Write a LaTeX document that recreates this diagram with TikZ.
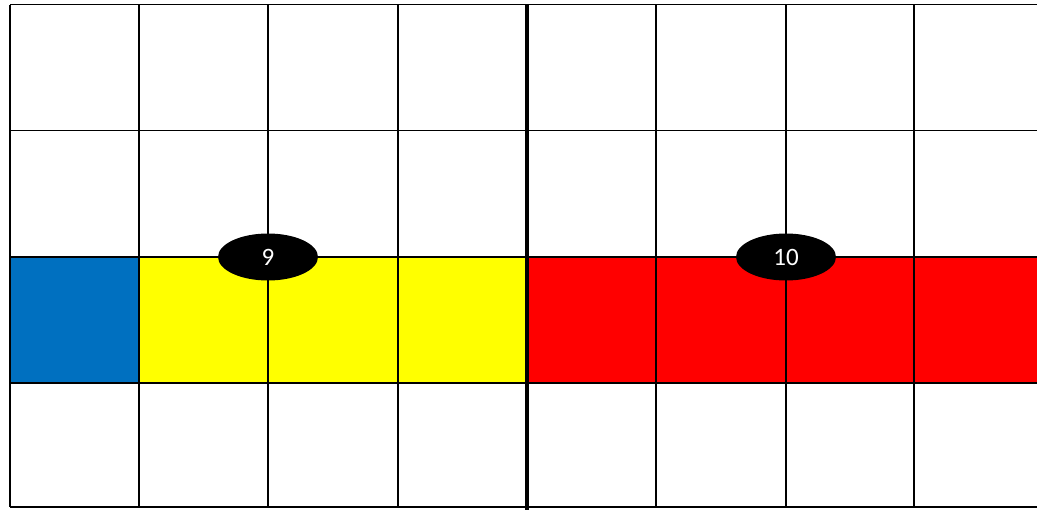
\documentclass[tikz,border=0pt]{standalone}
\usepackage{fontspec}
\setmainfont{Carlito}
\definecolor{cblue}{HTML}{0070C0}
\definecolor{cyellow}{HTML}{FFFF00}
\definecolor{cred}{HTML}{FF0000}
\usetikzlibrary{shapes.geometric}
\tikzset{
  gridline/.style={line width=1.8pt, black},
  midline/.style={line width=4.5pt, black},
  badge/.style={ellipse, fill=black, minimum width=100pt, minimum height=47pt, inner sep=0pt, text=white, font=\fontsize{25}{25}\selectfont}
}
\begin{document}
\begin{tikzpicture}[x=1pt,y=-1pt]
\useasboundingbox (0,0) rectangle (1037,512);
\fill[white] (0,0) rectangle (1037,512);
% coloured band
\fill[cblue] (10,257) rectangle (139,383);
\fill[cyellow] (139,257) rectangle (527,383);
\fill[cred] (527,257) rectangle (1037,383);
% horizontal lines
\foreach \y in {4.5,130.5,257,383,507} \draw[gridline] (10,\y) -- (1037,\y);
% vertical lines
\foreach \x in {10,139,268,398,656,786,914} \draw[gridline] (\x,4.5) -- (\x,507);
\draw[midline] (527,4.5) -- (527,510);
% badges
\node[badge] (n9) at (268,257) {9};
\node[badge] (n10) at (786,257) {10};
\end{tikzpicture}
\end{document}
